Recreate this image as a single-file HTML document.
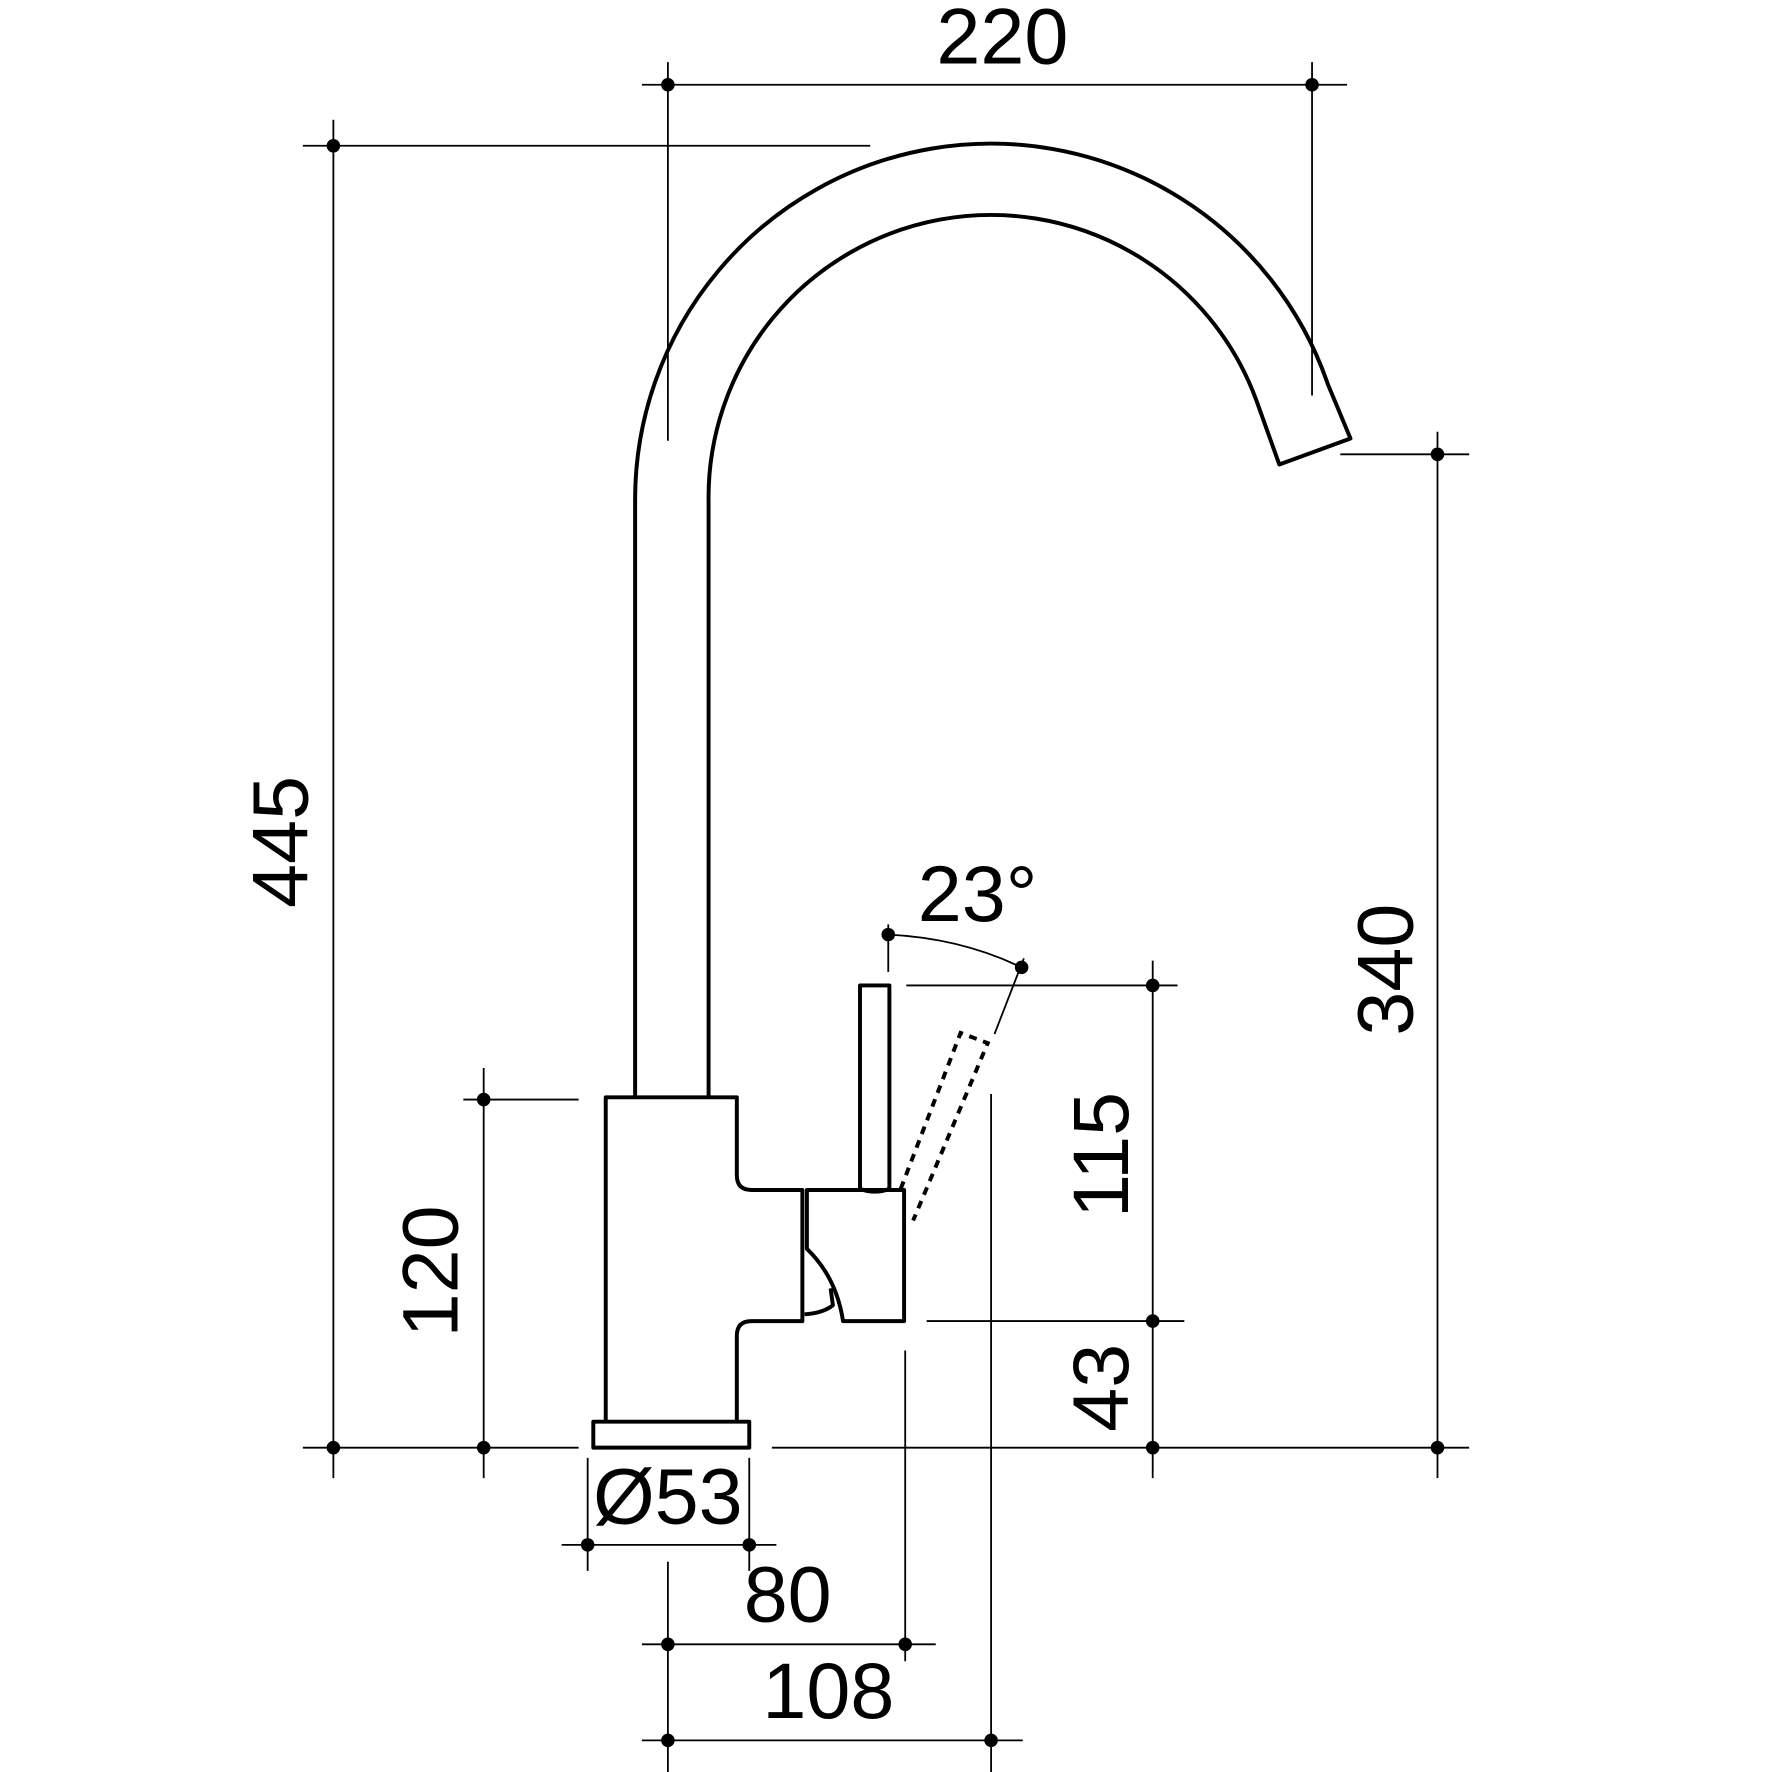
<!DOCTYPE html>
<html><head><style>html,body{margin:0;padding:0;background:#fff}svg{display:block}</style></head>
<body>
<svg width="1772" height="1772" viewBox="0 0 1568 1568" xmlns="http://www.w3.org/2000/svg">
<g fill="none" stroke="#000" stroke-width="3.5" stroke-linejoin="round">
<!-- spout -->
<path d="M562,970 L562,444 A315,315 0 0 1 1175,340 L1195,388 L1132,411 L1112,355 A250,250 0 0 0 627,444 L627,970"/>
<!-- body -->
<path d="M536,1257 L536,971 L652,971 L652,1040 Q652,1053 665,1053 L710,1053 L710,1169 L665,1169 Q652,1169 652,1182 L652,1257"/>
<rect x="525" y="1258" width="138" height="23"/>
<!-- handle -->
<path d="M714,1053 L714,1105 Q740,1130 746,1169 L800,1169 L800,1053 Z"/>
<path d="M712,1163 Q728,1162 737,1155 L735,1140"/>
<path d="M761,1052 L761,872 L787,872 L787,1052 Q774,1057 761,1052"/>
</g>
<!-- dashed lever -->
<path d="M797,1052 L850,914 L874,923 L808,1080" fill="none" stroke="#000" stroke-width="3.5" stroke-dasharray="7,6"/>
<g fill="none" stroke="#000" stroke-width="1.6">
<line x1="568" y1="75" x2="1192" y2="75"/>
<line x1="591" y1="55" x2="591" y2="390"/>
<line x1="1161" y1="55" x2="1161" y2="350"/>
<line x1="295" y1="106" x2="295" y2="1308"/>
<line x1="268" y1="129" x2="770" y2="129"/>
<line x1="268" y1="1281" x2="512" y2="1281"/>
<line x1="683" y1="1281" x2="1300" y2="1281"/>
<line x1="428" y1="945" x2="428" y2="1308"/>
<line x1="410" y1="973" x2="512" y2="973"/>
<line x1="1272" y1="382" x2="1272" y2="1308"/>
<line x1="1186" y1="402" x2="1300" y2="402"/>
<line x1="1020" y1="850" x2="1020" y2="1308"/>
<line x1="802" y1="872" x2="1042" y2="872"/>
<line x1="820" y1="1169" x2="1048" y2="1169"/>
<line x1="520" y1="1290" x2="520" y2="1390"/>
<line x1="663" y1="1290" x2="663" y2="1390"/>
<line x1="497" y1="1367" x2="687" y2="1367"/>
<line x1="591" y1="1382" x2="591" y2="1568"/>
<line x1="801" y1="1195" x2="801" y2="1470"/>
<line x1="568" y1="1455" x2="828" y2="1455"/>
<line x1="877" y1="968" x2="877" y2="1568"/>
<line x1="568" y1="1540" x2="905" y2="1540"/>
<line x1="786" y1="818" x2="786" y2="860"/>
<line x1="906" y1="848" x2="880" y2="915"/>
<path d="M786,827 Q850,830 904,856"/>
</g>
<g fill="#000">
<circle cx="591" cy="75" r="6"/><circle cx="1161" cy="75" r="6"/>
<circle cx="295" cy="129" r="6"/><circle cx="295" cy="1281" r="6"/>
<circle cx="428" cy="973" r="6"/><circle cx="428" cy="1281" r="6"/>
<circle cx="1272" cy="402" r="6"/><circle cx="1272" cy="1281" r="6"/>
<circle cx="1020" cy="872" r="6"/><circle cx="1020" cy="1169" r="6"/><circle cx="1020" cy="1281" r="6"/>
<circle cx="520" cy="1367" r="6"/><circle cx="663" cy="1367" r="6"/>
<circle cx="591" cy="1455" r="6"/><circle cx="801" cy="1455" r="6"/>
<circle cx="591" cy="1540" r="6"/><circle cx="877" cy="1540" r="6"/>
<circle cx="786" cy="827" r="6"/><circle cx="904" cy="856" r="6"/>
</g>
<g font-family="Liberation Sans, sans-serif" font-size="70" fill="#000" text-anchor="middle">
<text x="887" y="56">220</text>
<text transform="translate(272,745) rotate(-90)">445</text>
<text transform="translate(405,1125) rotate(-90)">120</text>
<text transform="translate(1250,858) rotate(-90)">340</text>
<text transform="translate(998,1022) rotate(-90)">115</text>
<text transform="translate(998,1228) rotate(-90)">43</text>
<text x="591" y="1348">Ø53</text>
<text x="697" y="1435">80</text>
<text x="733" y="1520">108</text>
<text x="865" y="815">23°</text>
</g>
</svg>
</body></html>
